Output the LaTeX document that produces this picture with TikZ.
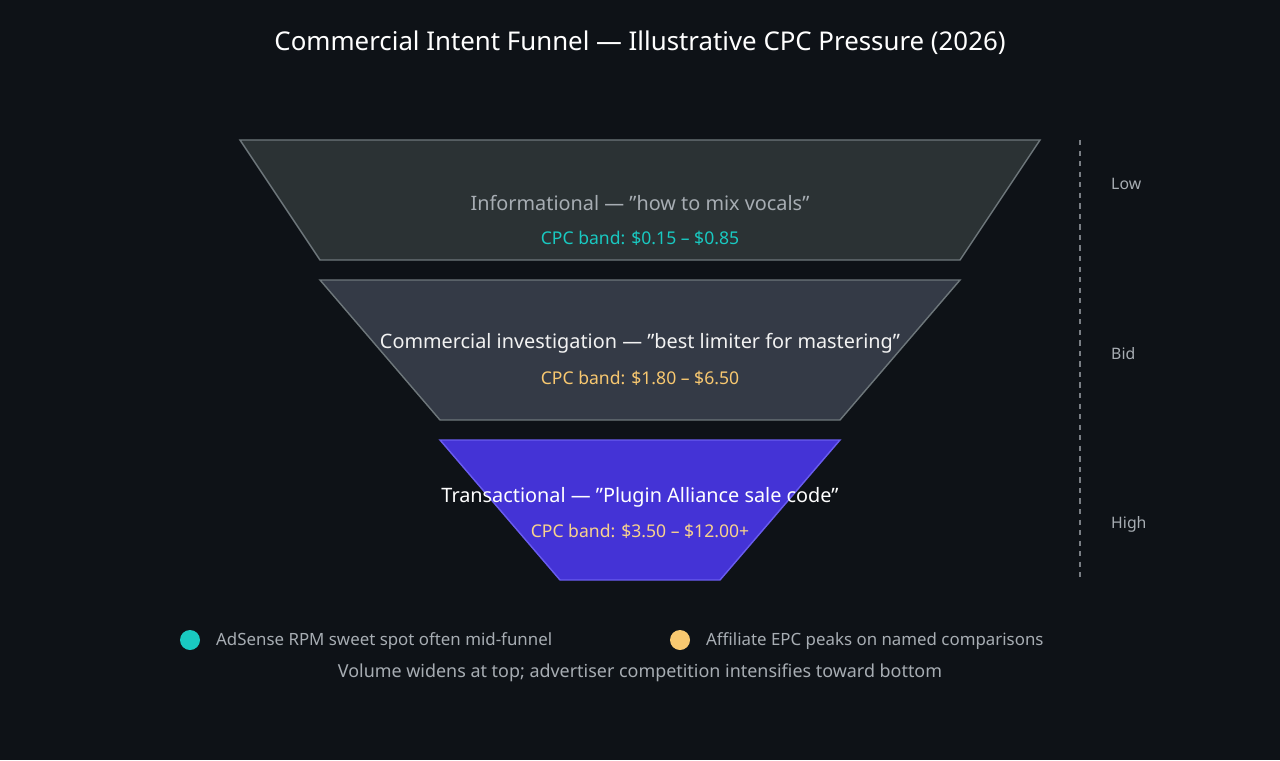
\documentclass[tikz,border=0pt]{standalone}
\usepackage{fontspec}
\setmainfont{Noto Sans}
\definecolor{bgc}{HTML}{0E1217}
\definecolor{topf}{HTML}{2B3234}
\definecolor{mids}{HTML}{343A46}
\definecolor{botf}{HTML}{4433D6}
\definecolor{edge}{HTML}{6E777B}
\definecolor{botedge}{HTML}{6A5CF0}
\definecolor{teal}{HTML}{19C9C1}
\definecolor{gold}{HTML}{F8C870}
\definecolor{soft}{HTML}{A7ADB3}
\begin{document}
\begin{tikzpicture}[x=0.02cm,y=-0.02cm,
  stage/.style={draw=edge, line width=0.8pt},
  lbl/.style={font=\fontsize{11.3}{13}\selectfont},
  band/.style={font=\fontsize{10}{12}\selectfont},
  side/.style={soft, anchor=west, font=\fontsize{9}{11}\selectfont},
  legend/.style={soft, anchor=west, font=\fontsize{9.6}{11}\selectfont}]

\fill[bgc] (0,0) rectangle (1280,760);
\useasboundingbox (0,0) rectangle (1280,760);

\node[white, font=\fontsize{14.7}{17}\selectfont] (title) at (640,43) {Commercial Intent Funnel — Illustrative CPC Pressure (2026)};

% funnel stages
\draw[stage, fill=topf] (240,140) -- (1040,140) -- (960,260) -- (320,260) -- cycle;
\draw[stage, fill=mids] (320,280) -- (960,280) -- (840,420) -- (440,420) -- cycle;
\draw[stage, draw=botedge, fill=botf] (440,440) -- (840,440) -- (720,580) -- (560,580) -- cycle;

\node[lbl, soft] (info) at (640,203) {Informational — "how to mix vocals"};
\node[band, teal] (infoband) at (640,238) {CPC band: \$0.15 – \$0.85};
\node[lbl, white!90!gray] (comm) at (640,343) {Commercial investigation — "best limiter for mastering"};
\node[band, gold] (commband) at (640,378) {CPC band: \$1.80 – \$6.50};
\node[lbl, white] (trans) at (640,497) {Transactional — "Plugin Alliance sale code"};
\node[band, gold!80!white] (transband) at (640,531) {CPC band: \$3.50 – \$12.00+};

% pressure scale
\coordinate (scaletop) at (1080,140);
\coordinate (scalebot) at (1080,580);
\draw[soft!70!bgc, dashed, line width=0.8pt] (scaletop) -- (scalebot);
\node[side] (low) at (1105,184) {Low};
\node[side] (bid) at (1105,354) {Bid};
\node[side] (high) at (1105,524) {High};

% legend
\fill[teal] (190,640) circle (10);
\node[legend] (adsense) at (210,641) {AdSense RPM sweet spot often mid-funnel};
\fill[gold] (680,640) circle (10);
\node[legend] (epc) at (700,641) {Affiliate EPC peaks on named comparisons};
\node[soft, font=\fontsize{10.2}{12}\selectfont] (foot) at (640,673) {Volume widens at top; advertiser competition intensifies toward bottom};
\end{tikzpicture}
\end{document}
